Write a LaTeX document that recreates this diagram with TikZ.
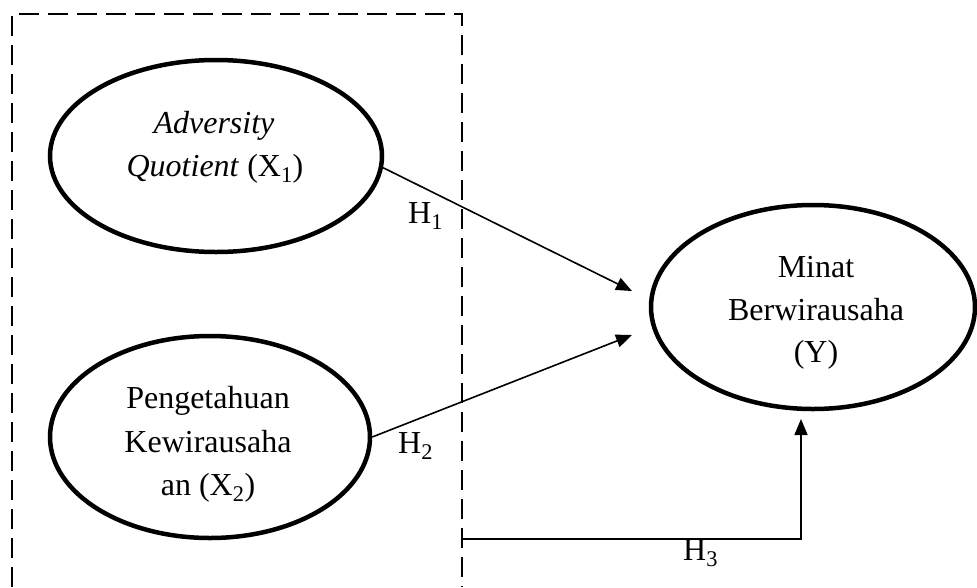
\documentclass[tikz,border=0pt]{standalone}
\usepackage{fontspec}
\setmainfont{Liberation Serif}
\usetikzlibrary{shapes.geometric,arrows.meta}
\begin{document}
\begin{tikzpicture}[x=1pt,y=-1pt,
  font=\fontsize{32}{42}\selectfont,
  latent/.style={draw,ellipse,line width=4.5pt,inner sep=0pt},
  lbl/.style={anchor=base,inner sep=0pt},
  hyp/.style={anchor=base west,inner sep=0pt},
  conn/.style={line width=1.6pt,-{Triangle[length=16pt,width=13pt]}},
  boxline/.style={line width=2.8pt,dash pattern=on 20pt off 9pt}]
\useasboundingbox (0,0) rectangle (977,587);
% dashed group box (open at the bottom)
\draw[boxline] (12,587) -- (12,14) -- (462,14) -- (462,587);
% ellipses
\node[latent,minimum width=332pt,minimum height=192pt] (e1) at (216,156) {};
\node[latent,minimum width=320pt,minimum height=202pt] (e2) at (210,437) {};
\node[latent,minimum width=324pt,minimum height=204pt] (e3) at (813,307) {};
% texts
\node[lbl] (t1a) at (214,133) {\textit{Adversity}};
\node[lbl] (t1b) at (215,176) {\textit{Quotient} (X\textsubscript{1})};
\node[lbl] (t2a) at (208,408) {Pengetahuan};
\node[lbl] (t2b) at (208,452) {Kewirausaha};
\node[lbl] (t2c) at (208,495) {an (X\textsubscript{2})};
\node[lbl] (t3a) at (816,277) {Minat};
\node[lbl] (t3b) at (816,320) {Berwirausaha};
\node[lbl] (t3c) at (816,362) {(Y)};
% connectors
\coordinate (p1) at (632,291);
\coordinate (p2) at (632,335);
\coordinate (c3) at (462,539);
\coordinate (p3) at (801,419);
\draw[conn] (e1.-4.9) -- (p1);
\draw[conn] (e2.east) -- (p2);
\draw[conn] (c3) -| (p3);
% hypothesis labels
\node[hyp] (h1) at (408,223) {H\textsubscript{1}};
\node[hyp] (h2) at (398,453) {H\textsubscript{2}};
\node[hyp] (h3) at (683,560) {H\textsubscript{3}};
\end{tikzpicture}
\end{document}
